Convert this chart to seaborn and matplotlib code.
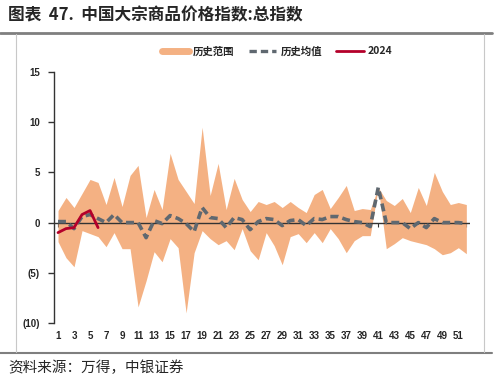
import numpy as np
import pandas as pd
import matplotlib
matplotlib.use("Agg")
import matplotlib.pyplot as plt
from matplotlib.lines import Line2D
import seaborn as sns

weeks = list(range(1, 53))
upper = [1.2, 2.5, 1.5, 2.9, 4.3, 4.0, 1.8, 4.5, 1.6, 4.7,
         5.7, 0.5, 3.3, 1.3, 6.9, 4.3, 3.1, 1.9, 9.5, 2.7,
         5.9, 1.3, 4.4, 2.3, 1.1, 2.1, 1.8, 2.1, 1.5, 2.1,
         1.5, 1.0, 2.8, 3.3, 1.4, 2.5, 3.7, 1.2, 1.4, 1.3,
         3.5, 2.2, 1.7, 2.4, 1.0, 3.5, 1.7, 5.0, 3.1, 1.8,
         2.0, 1.8]
lower = [-1.9, -3.5, -4.4, -0.8, -1.1, -1.4, -2.4, -1.0, -2.6, -2.6,
         -8.4, -5.8, -2.9, -3.9, -1.6, -2.5, -9.0, -3.0, -0.8, -1.6,
         -2.2, -1.8, -2.7, -0.6, -2.8, -3.7, -1.0, -2.3, -4.2, -1.4,
         -1.1, -2.0, -1.0, -2.0, -0.6, -1.6, -3.0, -1.8, -1.3, -1.3,
         3.5, -2.6, -2.1, -1.5, -1.8, -2.0, -2.2, -2.6, -3.2, -3.0,
         -2.5, -3.1]
mean = [0.1, 0.1, -0.6, 0.6, 0.8, 0.4, 0.0, 0.8, 0.0, 0.0,
        0.0, -1.5, 0.2, -0.1, 0.7, 0.4, -0.1, -0.9, 1.5, 0.5,
        0.4, -0.5, 0.5, 0.3, -0.7, 0.1, 0.4, 0.3, -0.3, 0.2,
        0.3, -0.3, 0.4, 0.3, 0.6, 0.6, 0.3, 0.1, 0.0, -0.4,
        3.5, 0.0, 0.0, 0.0, -0.6, 0.0, -0.5, 0.4, 0.0, 0.0,
        0.0, -0.1]
weeks_2024 = [1, 2, 3, 4, 5, 6]
vals_2024 = [-1.0, -0.6, -0.5, 0.8, 1.2, -0.5]

yticks = [15, 10, 5, 0, -5, -10]
ytick_labels = ["15", "10", "5", "0", "(5)", "(10)"]
xtick_vals = list(range(1, 52, 2))

title = "图表  47.  中国大宗商品价格指数:总指数"
source = "资料来源：万得，中银证券"
legend_labels = ["历史范围", "历史均值", "2024"]

C_FILL = "#F4B183"
C_MEAN = "#5F6870"
C_2024 = "#B4002A"

sns.set_theme(style="white")
plt.rcParams["font.family"] = ["Noto Sans CJK SC", "DejaVu Sans"]

df = pd.DataFrame({"week": weeks, "upper": upper, "lower": lower, "mean": mean})
df24 = pd.DataFrame({"week": weeks_2024, "val": vals_2024})

fig = plt.figure(figsize=(5.01, 3.82), dpi=100)
ax = fig.add_axes([0.1078, 0.1545, 0.8310, 0.6570])

ax.fill_between(df["week"], df["lower"], df["upper"], color=C_FILL, lw=0, zorder=1)
ax.axhline(0, color="#333333", lw=1.0, zorder=2)
sns.lineplot(data=df, x="week", y="mean", ax=ax, color=C_MEAN, lw=2.6,
             linestyle=(0, (2.2, 1.2)), zorder=3)
sns.lineplot(data=df24, x="week", y="val", ax=ax, color=C_2024, lw=2.0, zorder=4)

ax.set_xlim(0.5, 52.5)
ax.set_ylim(-10, 15)
ax.set_xlabel("")
ax.set_ylabel("")

for s in ["top", "right"]:
    ax.spines[s].set_visible(False)
ax.spines["left"].set_color("#333333")
ax.spines["left"].set_linewidth(1.0)
ax.spines["bottom"].set_position(("data", 0))
ax.spines["bottom"].set_alpha(0)

ax.set_yticks(yticks)
ax.set_yticklabels(ytick_labels, fontsize=7, fontweight="bold", family="Liberation Sans")
ax.tick_params(axis="y", direction="out", length=4, width=1, color="#333333", pad=6, left=True)

ax.set_xticks(weeks)
ax.tick_params(axis="x", direction="out", length=3, width=0.8, color="#333333",
               bottom=True, labelbottom=False)

sec = ax.secondary_xaxis(0.0)
sec.set_xticks(xtick_vals)
sec.set_xticklabels([str(v) for v in xtick_vals], fontsize=7, fontweight="bold",
                    family="Liberation Sans")
sec.tick_params(axis="x", length=0, pad=6)
sec.spines["bottom"].set_visible(False)

handles = [Line2D([], [], color=C_FILL, lw=5),
           Line2D([], [], color=C_MEAN, lw=2.4, linestyle=(0, (2.2, 1.2))),
           Line2D([], [], color=C_2024, lw=2.0)]
fig.legend(handles, legend_labels, loc="center", bbox_to_anchor=(0.553, 0.866),
           ncol=3, frameon=False, handlelength=2.6, handletextpad=0.4,
           columnspacing=1.4, prop={"size": 7.5, "weight": "bold"})

fig.text(0.016, 0.960, title, fontsize=12, fontweight="bold", ha="left", va="center")
fig.text(0.016, 0.037, source, fontsize=10.5, style="italic", ha="left", va="center")

fig.add_artist(Line2D([0, 0.982], [0.914, 0.914], color="#7f7f7f", lw=2.0))
fig.add_artist(Line2D([0, 0.982], [0.075, 0.075], color="#7f7f7f", lw=1.5))
fig.add_artist(Line2D([0.032, 0.032], [0.078, 0.911], color="#c8c8c8", lw=0.8))
fig.add_artist(Line2D([0.966, 0.966], [0.078, 0.911], color="#c8c8c8", lw=0.8))

fig.savefig("out.png", dpi=100)
